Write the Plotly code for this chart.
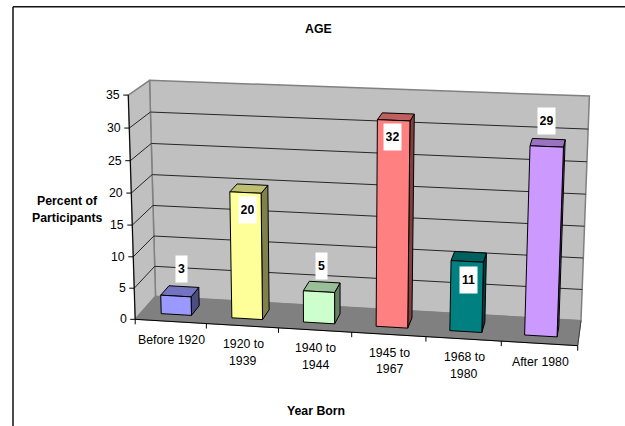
import numpy as np
import plotly.graph_objects as go

categories = ["Before 1920", "1920 to<br>1939", "1940 to<br>1944", "1945 to<br>1967", "1968 to<br>1980", "After 1980"]
values = [3, 20, 5, 32, 11, 29]
bar_colors = ["#9999FF", "#FFFF99", "#CCFFCC", "#FF8080", "#008080", "#CC99FF"]
y_ticks = [0, 5, 10, 15, 20, 25, 30, 35]
label_offsets = [(1.5, -22.5), (-1.5, 21), (0, -20.5), (-3.5, 20.5), (-0.5, 23.5), (-1.5, -22)]

# calibration of the oblique 3D view: (category, value, depth) -> page pixel
calib = [
    (0, 0, 0, 135.7, 318.3), (0, 35, 0, 128.3, 95), (0, 0, 1, 155, 296.7), (0, 35, 1, 149.3, 80.7),
    (6, 35, 1, 589.3, 96), (6, 0, 1, 581, 320), (6, 0, 0, 577.3, 345.3),
    (1, 0, 0, 206, 323.5), (2, 0, 0, 278.5, 328), (3, 0, 0, 352, 332.7), (4, 0, 0, 426.5, 337.3), (5, 0, 0, 501, 341.7),
    (0, 20, 0, 131, 192.7), (0, 20, 1, 152.7, 174.7), (6, 20, 1, 586, 194),
]
A, b = [], []
for X, Y, Z, u, v in calib:
    A.append([X, Y, Z, 1, 0, 0, 0, 0, -u * X, -u * Y, -u * Z]); b.append(u)
    A.append([0, 0, 0, 0, X, Y, Z, 1, -v * X, -v * Y, -v * Z]); b.append(v)
P = np.append(np.linalg.lstsq(np.array(A, float), np.array(b, float), rcond=None)[0], 1).reshape(3, 4)


def proj(X, Y, Z):
    r = P @ np.array([X, Y, Z, 1.0])
    return r[0] / r[2], r[1] / r[2]


def shade(hex_c, k):
    return "#" + "".join(f"{int(int(hex_c[i:i+2], 16) * k + 0.5):02X}" for i in (1, 3, 5))


fig = go.Figure()


def poly(pts, fill=None, line=None, w=1.0):
    xs, ys = zip(*[proj(*p) for p in pts])
    xs, ys = list(xs), list(ys)
    if fill:
        xs.append(xs[0]); ys.append(ys[0])
    fig.add_trace(go.Scatter(x=xs, y=ys, mode="lines", fill="toself" if fill else None, fillcolor=fill,
                             line=dict(color=line or fill, width=w), showlegend=False, hoverinfo="skip"))


top = max(y_ticks)
n = len(categories)
poly([(0, 0, 1), (n, 0, 1), (n, top, 1), (0, top, 1)], "#C0C0C0", "#808080", 1.5)
poly([(0, 0, 0), (0, 0, 1), (0, top, 1), (0, top, 0)], "#C0C0C0", "#808080", 1.5)
poly([(0, 0, 0), (n, 0, 0), (n, 0, 1), (0, 0, 1)], "#808080", "#808080", 1)
for t in y_ticks[1:-1]:
    poly([(0, t, 0), (0, t, 1), (n, t, 1)], None, "#262626", 1)
poly([(0, 0, 0), (0, top, 0)], None, "#000000", 1)
poly([(0, 0, 0), (n, 0, 0)], None, "#000000", 1)
poly([(n, 0, 0), (n, 0, 1)], None, "#404040", 1)

halfw, z0, z1 = 0.215, 0.29, 0.71
for i, (v, c) in enumerate(zip(values, bar_colors)):
    a, d = i + 0.5 - halfw, i + 0.5 + halfw
    poly([(d, 0, z0), (d, 0, z1), (d, v, z1), (d, v, z0)], shade(c, 0.5), "#000000", 1)
    poly([(a, v, z0), (d, v, z0), (d, v, z1), (a, v, z1)], shade(c, 0.75), "#000000", 1)
    poly([(a, 0, z0), (d, 0, z0), (d, v, z0), (a, v, z0)], c, "#000000", 1)

family = "Liberation Sans, Arial, sans-serif"
font = dict(family=family, size=12.3, color="#000000")
bold = dict(family=family, size=12.3, color="#000000", weight="bold")
anns = []


def text(x, y, s, f=font, **kw):
    anns.append(dict(x=x, y=y, xref="x", yref="y", text=s, showarrow=False, font=f, **kw))


shapes = []
for t in y_ticks:
    x0, y0 = proj(0, t, 0)
    shapes.append(dict(type="line", x0=x0 - 5, y0=y0, x1=x0, y1=y0, xref="x", yref="y", line=dict(color="#000000", width=1)))
    text(x0 - 6, y0, str(t), xanchor="right")
for i in range(n + 1):
    x0, y0 = proj(i, 0, 0)
    shapes.append(dict(type="line", x0=x0, y0=y0, x1=x0, y1=y0 + 5, xref="x", yref="y", line=dict(color="#000000", width=1)))
for i, cat in enumerate(categories):
    x0, y0 = proj(i + 0.5, 0, 0)
    for j, part in enumerate(cat.split("<br>")):
        text(x0 + 1, y0 + 18.3 + 16.7 * j, part)
for i, v in enumerate(values):
    x0, y0 = proj(i + 0.5, v, 0.5)
    dx, dy = label_offsets[i]
    text(x0 + dx, y0 + dy, f"<b>{v}</b>", bold, bgcolor="#FFFFFF", borderpad=2,
         width=13 if v >= 10 else 7, height=22)

text(318, 29, "<b>AGE</b>", bold)
text(67.5, 200.7, "<b>Percent of</b>", bold)
text(67.5, 217.7, "<b>Participants</b>", bold)
text(316, 411, "<b>Year Born</b>", bold)

shapes.append(dict(type="line", x0=13, y0=426, x1=13, y1=6.8, xref="x", yref="y", line=dict(color="#111111", width=1.5)))
shapes.append(dict(type="line", x0=13, y0=6.8, x1=625, y1=6.8, xref="x", yref="y", line=dict(color="#111111", width=1.5)))

fig.update_layout(width=625, height=426, margin=dict(l=0, r=0, t=0, b=0), paper_bgcolor="#FFFFFF", plot_bgcolor="#FFFFFF",
                  xaxis=dict(range=[0, 625], visible=False, fixedrange=True),
                  yaxis=dict(range=[426, 0], visible=False, fixedrange=True),
                  annotations=anns, shapes=shapes, showlegend=False)
fig.write_html("out.html", config=dict(displayModeBar=False), post_script="document.body.style.margin='0';document.documentElement.style.overflow='hidden';")
